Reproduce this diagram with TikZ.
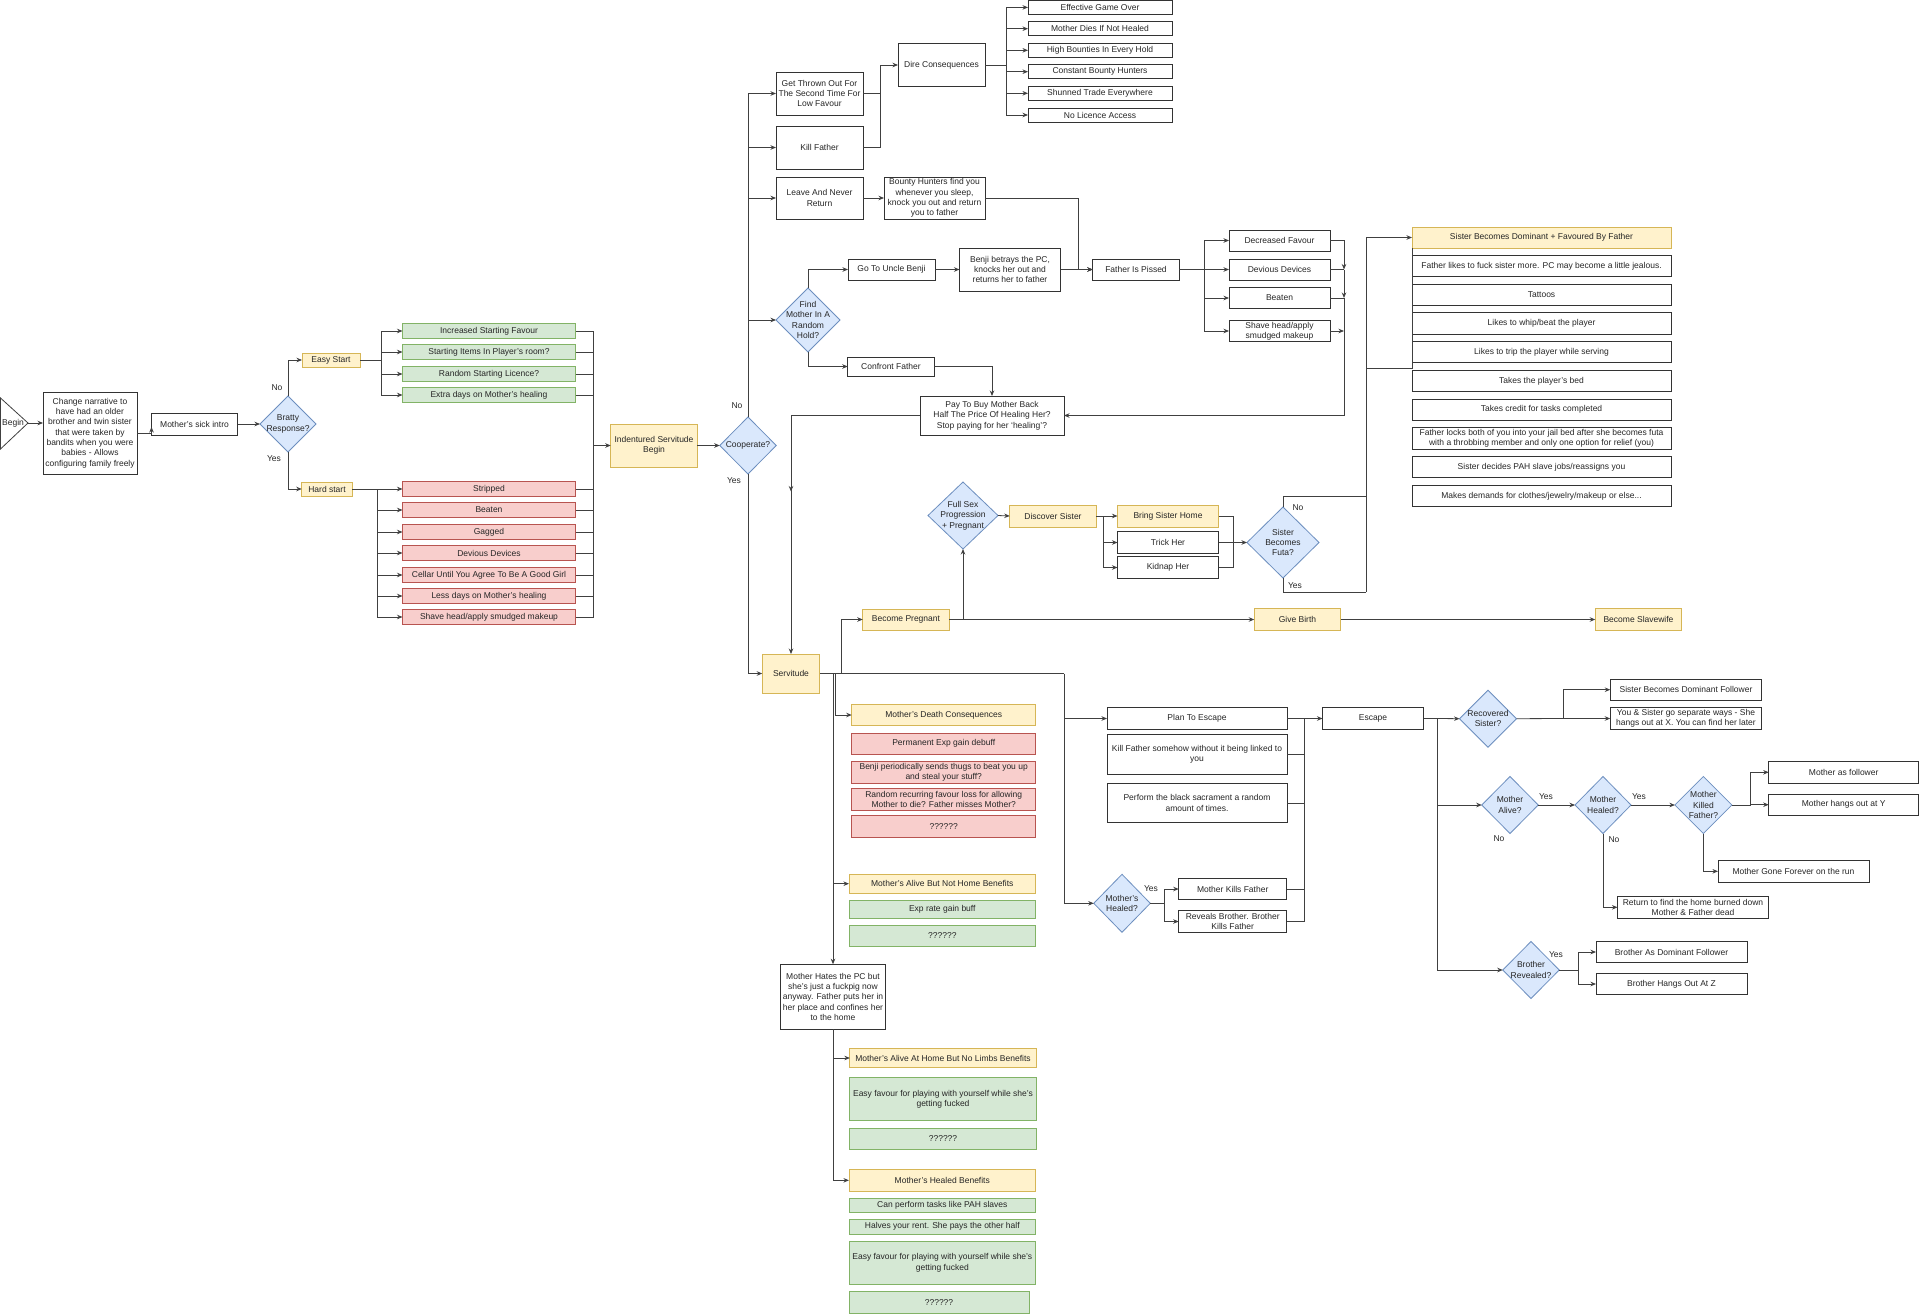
\documentclass[tikz,border=0pt]{standalone}
\usepackage{fontspec}
\setmainfont{Liberation Sans}
\usetikzlibrary{arrows.meta,shapes.geometric,decorations.markings}
\definecolor{yfill}{HTML}{FFF2CC}\definecolor{yline}{HTML}{D6B656}
\definecolor{gfill}{HTML}{D5E8D4}\definecolor{gline}{HTML}{82B366}
\definecolor{rfill}{HTML}{F8CECC}\definecolor{rline}{HTML}{B85450}
\definecolor{bfill}{HTML}{DAE8FC}\definecolor{bline}{HTML}{6C8EBF}
\newcommand\dfont{\fontsize{8.5}{10.3}\selectfont}
\tikzset{
  basebox/.style={rectangle,align=center,inner sep=1pt,line width=0.8pt},
  box/.style={basebox,draw=black!80,fill=white},
  ybox/.style={basebox,draw=yline,fill=yfill},
  gbox/.style={basebox,draw=gline,fill=gfill},
  rbox/.style={basebox,draw=rline,fill=rfill},
  dia/.style={diamond,draw=bline,fill=bfill,line width=0.8pt,inner sep=0pt},
  dtxt/.style={align=center,inner sep=0pt},
  lbl/.style={inner sep=0pt},
  ln/.style={draw=black!75,line width=0.8pt},
  arr/.style={ln,-{Stealth[length=5.5pt,width=4.5pt]}},
}
\begin{document}
\begin{tikzpicture}[x=1pt,y=-1pt,
  every node/.style={font=\dfont,text=black!85,outer sep=0pt}]
\useasboundingbox (0,0) rectangle (1920,1314);
\fill[white] (0,0) rectangle (1920,1314);

% ---------------- left part
\coordinate (begintip) at (28,423);
\draw[ln,fill=white] (0.5,398) -- (begintip) -- (0.5,449) -- cycle;
\node[inner sep=0pt] (begin) at (13,423) {Begin};
\node[box,minimum width=94pt,minimum height=82pt] (narr) at (90,433) {Change narrative to\\have had an older\\brother and twin sister\\that were taken by\\bandits when you were\\babies - Allows\\configuring family freely};
\node[box,minimum width=86pt,minimum height=22pt] (sick) at (194.5,424) {Mother's sick intro};
\node[dia,minimum width=56pt,minimum height=56pt] (bratty) at (288,424) {};
\node[dtxt] (bratty-t) at (bratty) {Bratty\\Response?};
\node[ybox,minimum width=58pt,minimum height=14pt] (easy) at (331,360) {Easy Start};
\node[ybox,minimum width=50.5pt,minimum height=14pt] (hard) at (327,489) {Hard start};
\node[gbox,minimum width=173pt,minimum height=14.5pt] (g1) at (489,331) {Increased Starting Favour};
\node[gbox,minimum width=173pt,minimum height=14.5pt] (g2) at (489,352) {Starting Items In Player's room?};
\node[gbox,minimum width=173pt,minimum height=14.5pt] (g3) at (489,374) {Random Starting Licence?};
\node[gbox,minimum width=173pt,minimum height=14.5pt] (g4) at (489,395) {Extra days on Mother's healing};
\node[rbox,minimum width=173pt,minimum height=14.5pt] (r1) at (489,489) {Stripped};
\node[rbox,minimum width=173pt,minimum height=14.5pt] (r2) at (489,510) {Beaten};
\node[rbox,minimum width=173pt,minimum height=14.5pt] (r3) at (489,532) {Gagged};
\node[rbox,minimum width=173pt,minimum height=14.5pt] (r4) at (489,553) {Devious Devices};
\node[rbox,minimum width=173pt,minimum height=14.5pt] (r5) at (489,575) {Cellar Until You Agree To Be A Good Girl};
\node[rbox,minimum width=173pt,minimum height=14.5pt] (r6) at (489,596) {Less days on Mother's healing};
\node[rbox,minimum width=173pt,minimum height=14.5pt] (r7) at (489,617) {Shave head/apply smudged makeup};
\node[ybox,minimum width=86.5pt,minimum height=43pt] (isb) at (654,445.5) {Indentured Servitude\\Begin};
\node[dia,minimum width=56.5pt,minimum height=57pt] (coop) at (748,445.5) {};
\node[dtxt] (coop-t) at (coop) {Cooperate?};

% ---------------- top part
\node[box,minimum width=87pt,minimum height=43pt] (thrown) at (819.5,93.5) {Get Thrown Out For\\The Second Time For\\Low Favour};
\node[box,minimum width=87pt,minimum height=43pt] (killf) at (819.5,147.5) {Kill Father};
\node[box,minimum width=87pt,minimum height=42pt] (leave) at (819.5,198) {Leave And Never\\Return};
\node[box,minimum width=101pt,minimum height=42pt,inner sep=0.3pt] (bounty) at (934.5,198) {Bounty Hunters find you\\whenever you sleep,\\knock you out and return\\you to father};
\node[box,minimum width=87pt,minimum height=43pt] (dire) at (941.5,65) {Dire Consequences};
\node[box,minimum width=144pt,minimum height=14pt] (c1) at (1100,7.4) {Effective Game Over};
\node[box,minimum width=144pt,minimum height=14pt] (c2) at (1100,28.7) {Mother Dies If Not Healed};
\node[box,minimum width=144pt,minimum height=14pt] (c3) at (1100,50.3) {High Bounties In Every Hold};
\node[box,minimum width=144pt,minimum height=14pt] (c4) at (1100,71.7) {Constant Bounty Hunters};
\node[box,minimum width=144pt,minimum height=14pt] (c5) at (1100,93.3) {Shunned Trade Everywhere};
\node[box,minimum width=144pt,minimum height=14pt] (c6) at (1100,115) {No Licence Access};
\node[dia,minimum width=64pt,minimum height=64pt] (findm) at (808,320) {};
\node[dtxt] (findm-t) at (findm) {Find\\Mother In A\\Random\\Hold?};
\node[box,minimum width=87pt,minimum height=21pt] (benji) at (891.5,269.5) {Go To Uncle Benji};
\node[box,minimum width=101pt,minimum height=43pt] (betray) at (1010,269.5) {Benji betrays the PC,\\knocks her out and\\returns her to father};
\node[box,minimum width=86.5pt,minimum height=21pt] (pissed) at (1136,269.5) {Father Is Pissed};
\node[box,minimum width=101pt,minimum height=21pt] (decf) at (1279.5,240.5) {Decreased Favour};
\node[box,minimum width=101pt,minimum height=21pt] (devd) at (1279.5,269.5) {Devious Devices};
\node[box,minimum width=101pt,minimum height=21pt] (beat) at (1279.5,298) {Beaten};
\node[box,minimum width=101pt,minimum height=21.5pt,inner sep=0.3pt] (shave) at (1279.5,331) {Shave head/apply\\smudged makeup};
\node[box,minimum width=86.5pt,minimum height=19pt] (confront) at (891,366.5) {Confront Father};
\node[box,minimum width=144pt,minimum height=39pt] (pay) at (992,415.5) {Pay To Buy Mother Back\\Half The Price Of Healing Her?\\Stop paying for her `healing'?};

% ---------------- sister list
\node[ybox,minimum width=259pt,minimum height=21pt] (sdom) at (1541.5,237.5) {Sister Becomes Dominant + Favoured By Father};
\node[box,minimum width=259pt,minimum height=21.5pt] (l1) at (1541.5,266) {Father likes to fuck sister more. PC may become a little jealous.};
\node[box,minimum width=259pt,minimum height=21.5pt] (l2) at (1541.5,294.7) {Tattoos};
\node[box,minimum width=259pt,minimum height=21.5pt] (l3) at (1541.5,323.5) {Likes to whip/beat the player};
\node[box,minimum width=259pt,minimum height=21.5pt] (l4) at (1541.5,352) {Likes to trip the player while serving};
\node[box,minimum width=259pt,minimum height=21.5pt] (l5) at (1541.5,381) {Takes the player's bed};
\node[box,minimum width=259pt,minimum height=21.5pt] (l6) at (1541.5,409.7) {Takes credit for tasks completed};
\node[box,minimum width=259pt,minimum height=21.5pt,inner sep=0.3pt] (l7) at (1541.5,438.3) {Father locks both of you into your jail bed after she becomes futa\\with a throbbing member and only one option for relief (you)};
\node[box,minimum width=259pt,minimum height=21.5pt] (l8) at (1541.5,467) {Sister decides PAH slave jobs/reassigns you};
\node[box,minimum width=259pt,minimum height=21.5pt] (l9) at (1541.5,496) {Makes demands for clothes/jewelry/makeup or else...};

% ---------------- sister / pregnancy
\node[dia,minimum width=70pt,minimum height=67pt] (fullsex) at (963,515.5) {};
\node[dtxt] (fullsex-t) at (fullsex) {Full Sex\\Progression\\+ Pregnant};
\node[ybox,minimum width=86.5pt,minimum height=22pt] (discover) at (1053,516) {Discover Sister};
\node[ybox,minimum width=101pt,minimum height=22pt] (bring) at (1168,516) {Bring Sister Home};
\node[box,minimum width=101pt,minimum height=21.5pt] (trick) at (1168,542.5) {Trick Her};
\node[box,minimum width=101pt,minimum height=21.5pt] (kidnap) at (1168,567.5) {Kidnap Her};
\node[dia,minimum width=72pt,minimum height=71pt] (futa) at (1283,542.5) {};
\node[dtxt] (futa-t) at (futa) {Sister\\Becomes\\Futa?};
\node[ybox,minimum width=86.5pt,minimum height=21pt] (pregnant) at (906,619.5) {Become Pregnant};
\node[ybox,minimum width=86.5pt,minimum height=22pt] (birth) at (1297.5,619.5) {Give Birth};
\node[ybox,minimum width=86.5pt,minimum height=22pt] (slave) at (1638.5,619.5) {Become Slavewife};
\node[ybox,minimum width=57.5pt,minimum height=39pt] (serv) at (791,673.5) {Servitude};

% ---------------- mother outcomes
\node[ybox,minimum width=184pt,minimum height=21.5pt] (mdeath) at (943.7,715) {Mother's Death Consequences};
\node[rbox,minimum width=184pt,minimum height=21.3pt] (d1) at (943.7,743.7) {Permanent Exp gain debuff};
\node[rbox,minimum width=184pt,minimum height=22pt,inner sep=0.3pt] (d2) at (943.7,772.3) {Benji periodically sends thugs to beat you up\\and steal your stuff?};
\node[rbox,minimum width=184pt,minimum height=21.6pt,inner sep=0.3pt] (d3) at (943.7,799.5) {Random recurring favour loss for allowing\\Mother to die? Father misses Mother?};
\node[rbox,minimum width=184pt,minimum height=21.3pt] (d4) at (943.7,826.3) {??????};
\node[ybox,minimum width=186.7pt,minimum height=19pt] (malive) at (942.3,883.7) {Mother's Alive But Not Home Benefits};
\node[gbox,minimum width=186.7pt,minimum height=18pt] (a1) at (942.3,909) {Exp rate gain buff};
\node[gbox,minimum width=186.7pt,minimum height=21pt] (a2) at (942.3,935.5) {??????};
\node[box,minimum width=104.4pt,minimum height=65pt] (mhates) at (833,996.7) {Mother Hates the PC but\\she's just a fuckpig now\\anyway. Father puts her in\\her place and confines her\\to the home};
\node[ybox,minimum width=186.3pt,minimum height=18.7pt] (mlimbs) at (943,1058) {Mother's Alive At Home But No Limbs Benefits};
\node[gbox,minimum width=186.3pt,minimum height=43pt] (b1) at (943,1099) {Easy favour for playing with yourself while she's\\getting fucked};
\node[gbox,minimum width=186.3pt,minimum height=21.7pt] (b2) at (943,1139) {??????};
\node[ybox,minimum width=186.7pt,minimum height=21.3pt] (mhealed) at (942.3,1180.3) {Mother's Healed Benefits};
\node[gbox,minimum width=186.7pt,minimum height=14.4pt] (h1) at (942.3,1205.5) {Can perform tasks like PAH slaves};
\node[gbox,minimum width=186.7pt,minimum height=14.7pt] (h2) at (942.3,1226.7) {Halves your rent. She pays the other half};
\node[gbox,minimum width=186.7pt,minimum height=43.3pt] (h3) at (942.3,1262.7) {Easy favour for playing with yourself while she's\\getting fucked};
\node[gbox,minimum width=180pt,minimum height=22pt] (h4) at (939,1302.3) {??????};

% ---------------- escape
\node[box,minimum width=180pt,minimum height=21.5pt] (plan) at (1197,718.5) {Plan To Escape};
\node[box,minimum width=180pt,minimum height=39.7pt] (ksome) at (1197,754.5) {Kill Father somehow without it being linked to\\you};
\node[box,minimum width=180pt,minimum height=39.4pt] (sacr) at (1197,803) {Perform the black sacrament a random\\amount of times.};
\node[dia,minimum width=56.5pt,minimum height=58pt] (mhq) at (1122,903.3) {};
\node[dtxt] (mhq-t) at (mhq) {Mother's\\Healed?};
\node[box,minimum width=108pt,minimum height=21.4pt] (mkills) at (1232.7,889) {Mother Kills Father};
\node[box,minimum width=108pt,minimum height=21.4pt,inner sep=0.3pt] (reveals) at (1232.7,921.5) {Reveals Brother. Brother\\Kills Father};
\node[box,minimum width=101pt,minimum height=21.5pt] (escape) at (1373,718.5) {Escape};
\node[dia,minimum width=57pt,minimum height=57pt] (recov) at (1488,718.7) {};
\node[dtxt] (recov-t) at (recov) {Recovered\\Sister?};
\node[box,minimum width=151.5pt,minimum height=21.3pt] (sdf) at (1686,689.7) {Sister Becomes Dominant Follower};
\node[box,minimum width=151.5pt,minimum height=21.5pt,inner sep=0.3pt] (sep) at (1686,718.5) {You \& Sister go separate ways - She\\hangs out at X. You can find her later};
\node[dia,minimum width=56.5pt,minimum height=57pt] (malive2) at (1510,805) {};
\node[dtxt] (malive2-t) at (malive2) {Mother\\Alive?};
\node[dia,minimum width=56pt,minimum height=57pt] (mheal2) at (1603,805) {};
\node[dtxt] (mheal2-t) at (mheal2) {Mother\\Healed?};
\node[dia,minimum width=57pt,minimum height=57pt] (mkf) at (1703.4,805) {};
\node[dtxt] (mkf-t) at (mkf) {Mother\\Killed\\Father?};
\node[box,minimum width=150pt,minimum height=21.3pt] (mfollow) at (1843.7,772.3) {Mother as follower};
\node[box,minimum width=150pt,minimum height=21.3pt] (mhangs) at (1843.7,804.7) {Mother hangs out at Y};
\node[box,minimum width=151pt,minimum height=21.3pt] (mgone) at (1793.5,871.3) {Mother Gone Forever on the run};
\node[box,minimum width=151pt,minimum height=22pt,inner sep=0.3pt] (mreturn) at (1693,907.3) {Return to find the home burned down\\Mother \& Father dead};
\node[dia,minimum width=56.5pt,minimum height=57pt] (brev) at (1531,970) {};
\node[dtxt] (brev-t) at (brev) {Brother\\Revealed?};
\node[box,minimum width=151pt,minimum height=21.3pt] (bdom) at (1671.5,952) {Brother As Dominant Follower};
\node[box,minimum width=151pt,minimum height=21.3pt] (bhangs) at (1671.5,984) {Brother Hangs Out At Z};

% ---------------- labels
\node[lbl] (lb1) at (277,388) {No};
\node[lbl] (lb2) at (274,459) {Yes};
\node[lbl] (lb3) at (737,406) {No};
\node[lbl] (lb4) at (734,481) {Yes};
\node[lbl] (lb5) at (1298,508) {No};
\node[lbl] (lb6) at (1295,586) {Yes};
\node[lbl] (lb7) at (1151,889) {Yes};
\node[lbl] (lb8) at (1546,797) {Yes};
\node[lbl] (lb9) at (1499,839) {No};
\node[lbl] (lb10) at (1639,797) {Yes};
\node[lbl] (lb11) at (1614,840) {No};
\node[lbl] (lb12) at (1556,955) {Yes};

% ---------------- connectors: left
\draw[arr] (begintip) -- (narr.west |- begintip);
\draw[arr] (narr.east) -| ([yshift=-3pt]sick.west);
\draw[arr] (sick.east) -- (bratty.west);
\draw[arr] (bratty.north) |- (easy.west);
\draw[arr] (bratty.south) |- (hard.west);
\coordinate (ej) at (381.5,360);
\coordinate (hj) at (377.7,489);
\draw[ln] (easy.east) -- (ej);
\draw[ln] (hard.east) -- (hj);
\foreach \n in {g1,g2,g3,g4} \draw[arr] (ej) |- (\n.west);
\foreach \n in {r1,r2,r3,r4,r5,r6,r7} \draw[arr] (hj) |- (\n.west);
\coordinate (cj) at (593,445.5);
\foreach \n in {g1,g2,g3,g4,r1,r2,r3,r4,r5,r6,r7} \draw[ln] (\n.east) -| (cj);
\draw[arr] (cj) -- (isb.west);
\draw[arr] (isb.east) -- (coop.west);
\draw[arr] (coop.north) |- (thrown.west);
\draw[arr] (coop.north) |- (killf.west);
\draw[arr] (coop.north) |- (leave.west);
\draw[arr] (coop.north) |- (findm.west);
\draw[arr] (coop.south) |- (serv.west);

% ---------------- connectors: top
\coordinate (dj) at (880,93.5);
\draw[arr] (thrown.east) -- (dj) |- (dire.west);
\draw[ln] (killf.east) -| (dj);
\coordinate (dcj) at (1006.7,65);
\draw[ln] (dire.east) -- (dcj);
\foreach \n in {c1,c2,c3,c4,c5,c6} \draw[arr] (dcj) |- (\n.west);
\draw[arr] (leave.east) -- (bounty.west);
\coordinate (bj) at (1078.7,198);
\draw[arr] (bounty.east) -- (bj) |- (pissed.west);
\draw[arr] (findm.north) |- (benji.west);
\draw[arr] (benji.east) -- (betray.west);
\draw[arr] (betray.east) -- (pissed.west);
\draw[arr] (findm.south) |- (confront.west);
\draw[arr] (confront.east) -| (pay.north);
\coordinate (pj) at (1204,269.5);
\draw[ln] (pissed.east) -- (pj);
\foreach \n in {decf,devd,beat,shave} \draw[arr] (pj) |- (\n.west);
\coordinate (rc1) at (1344,269.5);
\coordinate (rc2) at (1344,298);
\coordinate (rc3) at (1344,331);
\draw[arr] (decf.east) -| (rc1);
\draw[ln] (devd.east) -- (rc1);
\draw[arr] (rc1) -- (rc2);
\draw[ln] (beat.east) -- (rc2);
\draw[arr] (shave.east) -- (rc3);
\draw[arr] (rc2) |- (pay.east);
\draw[arr,postaction={decorate,decoration={markings,mark=at position 205pt with {\arrow{Stealth[length=5.5pt,width=4.5pt]}}}}] (pay.west) -| (serv.north);

% ---------------- connectors: sister
\draw[arr] (fullsex.east) -- (discover.west);
\coordinate (dsj) at (1103.7,516);
\draw[ln] (discover.east) -- (dsj);
\foreach \n in {bring,trick,kidnap} \draw[arr] (dsj) |- (\n.west);
\coordinate (cj2) at (1233,542.5);
\draw[ln] (bring.east) -| (cj2);
\draw[ln] (kidnap.east) -| (cj2);
\draw[arr] (trick.east) -- (futa.west);
\coordinate (fno) at (1366,496);
\coordinate (fyes) at (1366,592);
\coordinate (lj) at (1366,368);
\draw[ln] (futa.north) |- (fno);
\draw[ln] (futa.south) |- (fyes);
\draw[arr] (fyes) |- (sdom.west);
\draw[ln] (sdom.south west) |- (lj);

% ---------------- connectors: servitude
\coordinate (sv1) at (835.5,673.5);
\coordinate (sv2) at (833,673.5);
\coordinate (sv3) at (841,673.5);
\coordinate (sv4) at (1064,673.5);
\draw[ln] (serv.east) -- (sv4);
\draw[arr] (sv3) |- (pregnant.west);
\draw[arr] (pregnant.east) -- (birth.west);
\coordinate (pu) at (fullsex.south |- pregnant.east);
\draw[arr] (pu) -- (fullsex.south);
\draw[arr] (birth.east) -- (slave.west);
\draw[arr] (sv1) |- (mdeath.west);
\draw[arr] (sv2) |- (malive.west);
\draw[arr] (sv2) -- (mhates.north);
\draw[arr] (mhates.south) |- (mlimbs.west);
\draw[arr] (mhates.south) |- (mhealed.west);
\draw[arr] (sv4) |- (mhq.west);
\draw[arr] (sv4 |- plan.west) -- (plan.west);
\coordinate (hj2) at (1164.3,903.3);
\draw[ln] (mhq.east) -- (hj2);
\draw[arr] (hj2) |- (mkills.west);
\draw[arr] (hj2) |- (reveals.west);

% ---------------- connectors: escape
\coordinate (ec) at (1304.3,718.5);
\draw[ln] (plan.east) -- (ec);
\foreach \n in {ksome,sacr,mkills,reveals} \draw[ln] (\n.east) -| (ec);
\draw[arr] (ec) -- (escape.west);
\coordinate (xj) at (1437.5,718.5);
\draw[ln] (escape.east) -- (xj);
\draw[arr] (xj) -- (recov.west);
\draw[arr] (xj) |- (malive2.west);
\draw[arr] (xj) |- (brev.west);
\coordinate (rj) at (1563.3,718.5);
\draw[ln] (recov.east) -- (rj);
\draw[arr] (rj) |- (sdf.west);
\draw[arr] (rj) -- (sep.west);
\draw[arr] (malive2.east) -- (mheal2.west);
\draw[arr] (mheal2.east) -- (mkf.west);
\coordinate (kj) at (1750,805);
\draw[ln] (mkf.east) -- (kj);
\draw[arr] (kj) |- (mfollow.west);
\draw[arr] (kj) |- (mhangs.west);
\draw[arr] (mkf.south) |- (mgone.west);
\draw[arr] (mheal2.south) |- (mreturn.west);
\coordinate (brj) at (1578,970);
\draw[ln] (brev.east) -- (brj);
\draw[arr] (brj) |- (bdom.west);
\draw[arr] (brj) |- (bhangs.west);
\end{tikzpicture}
\end{document}
